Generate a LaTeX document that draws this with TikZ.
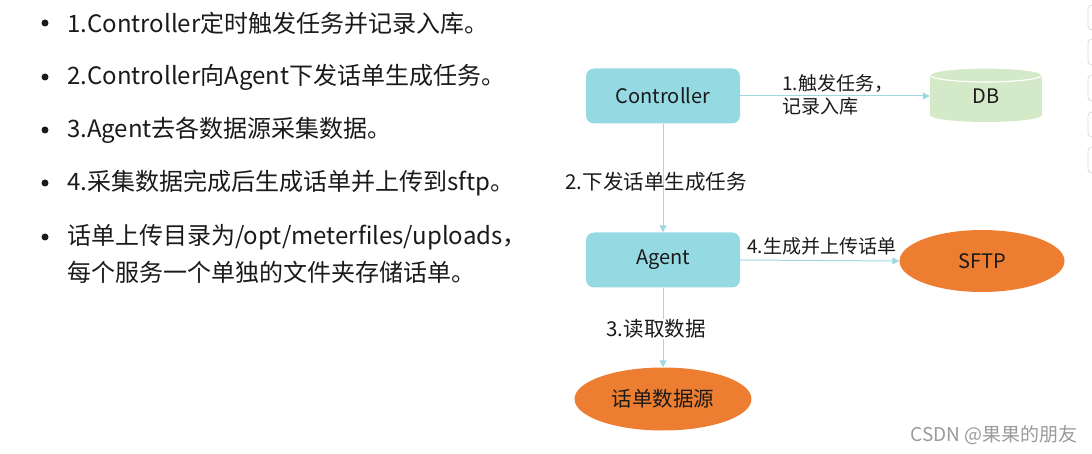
\documentclass[tikz,border=0pt]{standalone}
\usepackage{fontspec}
\setmainfont{Noto Sans CJK SC}
\usetikzlibrary{arrows.meta,shapes.geometric}
\definecolor{boxc}{HTML}{95D9E3}
\definecolor{arrc}{HTML}{9FD8E2}
\definecolor{orng}{HTML}{ED7D31}
\definecolor{dbc}{HTML}{D4E9C7}
\definecolor{txt}{HTML}{1A1A1A}
\definecolor{wm}{HTML}{9A9A9A}
\newcommand\fsz[1]{\fontsize{#1}{#1}\selectfont}
\begin{document}
\begin{tikzpicture}[x=1pt,y=-1pt,
  every node/.style={text=txt, inner sep=0pt},
  box/.style={rectangle, rounded corners=8, fill=boxc, minimum width=154, minimum height=55, font=\fsz{20}},
  oval/.style={ellipse, fill=orng, font=\fsz{20}},
  arr/.style={draw=arrc, line width=1, -{Triangle[width=7,length=7]}},
  lbl/.style={font=\fsz{19}, align=left},
  lblb/.style={font=\fsz{20.5}, align=left},
  blt/.style={font=\fsz{24}, anchor=west},
  dot/.style={circle, fill=txt, minimum size=7},
  sidebox/.style={draw=black!15, rounded corners=4, line width=0.8}]
\useasboundingbox (0,0) rectangle (1092,454);

% bullet list
\node[dot] (d1) at (45,23) {};
\node[blt] (b1) at (67,23) {1.Controller定时触发任务并记录入库。};
\node[dot] (d2) at (45,77) {};
\node[blt] (b2) at (67,77) {2.Controller向Agent下发话单生成任务。};
\node[dot] (d3) at (45,130) {};
\node[blt] (b3) at (67,130) {3.Agent去各数据源采集数据。};
\node[dot] (d4) at (45,183) {};
\node[blt] (b4) at (67,183) {4.采集数据完成后生成话单并上传到sftp。};
\node[dot] (d5) at (45,237) {};
\node[blt] (b5) at (67,237) {话单上传目录为/opt/meterfiles/uploads，};
\node[blt] (b6) at (67,272) {每个服务一个单独的文件夹存储话单。};

% nodes
\node[box] (ctrl) at (663,96) {Controller};
\node[box] (agent) at (663,260) {Agent};
\node[oval, minimum width=165, minimum height=62] (sftp) at (982,261) {SFTP};
\node[oval, minimum width=177, minimum height=63, font=\fsz{20.5}] (src) at (663,399) {话单数据源};

% DB cylinder
\fill[dbc] (930,75) rectangle (1042,115);
\fill[dbc] (986,115) ellipse [x radius=56, y radius=7];
\filldraw[fill=dbc, draw=white, line width=1.2] (986,75) ellipse [x radius=56, y radius=7];
\node[minimum width=112, minimum height=54, font=\fsz{20}] (db) at (986,96) {\raisebox{-3pt}{DB}};

% connectors
\draw[arr] (ctrl.east) -- (ctrl.east -| db.west);
\node[lbl, anchor=west] (l1) at (782,95) {1.触发任务，\\[4pt]记录入库};
\draw[arr] (ctrl.south) -- (agent.north);
\node[lblb] (l2) at (656,182) {2.下发话单生成任务};
\draw[arr] (agent.east) -- (sftp.west);
\node[lbl, anchor=west] (l4) at (747,246) {4.生成并上传话单};
\draw[arr] (agent.south) -- (src.north);
\node[lblb, fill=white, inner sep=1pt] (l3) at (656,329) {3.读取数据};

% watermark
\node[font=\fsz{19}, text=wm, anchor=east] (wmk) at (1078,435) {CSDN @果果的朋友};

% side UI boxes
\draw[sidebox] (1088,5) rectangle (1100,30);
\draw[sidebox] (1088,39) rectangle (1100,65);
\draw[sidebox] (1088,75) rectangle (1100,101);
\draw[sidebox] (1088,112) rectangle (1100,137);
\draw[sidebox] (1088,147) rectangle (1100,173);
\end{tikzpicture}
\end{document}
